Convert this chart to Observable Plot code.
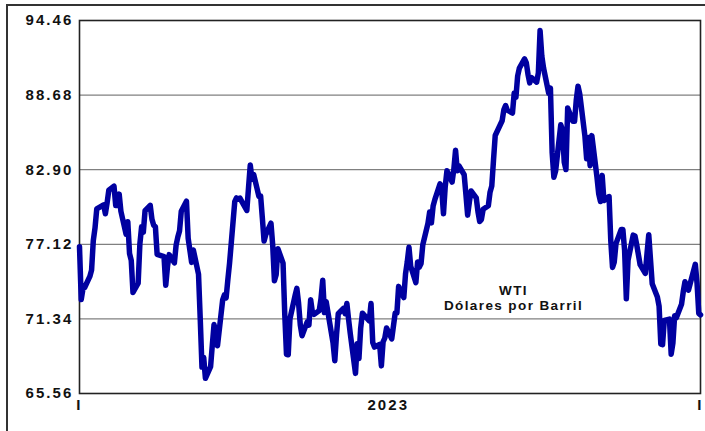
<!DOCTYPE html>
<html>
<head>
<meta charset="utf-8">
<script src="https://cdn.jsdelivr.net/npm/d3@7"></script>
<script src="https://cdn.jsdelivr.net/npm/@observablehq/plot@0.6"></script>
<style>
  html, body { margin: 0; padding: 0; background: #fff; }
  #wrap { position: relative; width: 705px; height: 431px; overflow: hidden; }
  #border { position: absolute; left: 6px; top: 4px; width: 900px; height: 600px;
            border-top: 2px solid #333; border-left: 2px solid #333; }
  #chart { position: absolute; left: 0; top: 0; }
  g[aria-label$="tick label"] { letter-spacing: 2.1px; }
  g[aria-label="text"] { letter-spacing: 1.4px; }
</style>
</head>
<body>
<div id="wrap"><div id="border"></div><div id="chart"></div></div>
<script>
const dates = [
"2023-01-03","2023-01-04","2023-01-05","2023-01-06","2023-01-09","2023-01-10","2023-01-11","2023-01-12","2023-01-13","2023-01-17",
"2023-01-18","2023-01-19","2023-01-20","2023-01-23","2023-01-24","2023-01-25","2023-01-26","2023-01-27","2023-01-30","2023-01-31",
"2023-02-01","2023-02-02","2023-02-03","2023-02-06","2023-02-07","2023-02-08","2023-02-09","2023-02-10","2023-02-13","2023-02-14",
"2023-02-15","2023-02-16","2023-02-17","2023-02-21","2023-02-22","2023-02-23","2023-02-24","2023-02-27","2023-02-28","2023-03-01",
"2023-03-02","2023-03-03","2023-03-06","2023-03-07","2023-03-08","2023-03-09","2023-03-10","2023-03-13","2023-03-14","2023-03-15",
"2023-03-16","2023-03-17","2023-03-20","2023-03-21","2023-03-22","2023-03-23","2023-03-24","2023-03-27","2023-03-28","2023-03-29",
"2023-03-30","2023-03-31","2023-04-03","2023-04-04","2023-04-05","2023-04-06","2023-04-10","2023-04-11","2023-04-12","2023-04-13",
"2023-04-14","2023-04-17","2023-04-18","2023-04-19","2023-04-20","2023-04-21","2023-04-24","2023-04-25","2023-04-26","2023-04-27",
"2023-04-28","2023-05-01","2023-05-02","2023-05-03","2023-05-04","2023-05-05","2023-05-08","2023-05-09","2023-05-10","2023-05-11",
"2023-05-12","2023-05-15","2023-05-16","2023-05-17","2023-05-18","2023-05-19","2023-05-22","2023-05-23","2023-05-24","2023-05-25",
"2023-05-26","2023-05-30","2023-05-31","2023-06-01","2023-06-02","2023-06-05","2023-06-06","2023-06-07","2023-06-08","2023-06-09",
"2023-06-12","2023-06-13","2023-06-14","2023-06-15","2023-06-16","2023-06-20","2023-06-21","2023-06-22","2023-06-23","2023-06-26",
"2023-06-27","2023-06-28","2023-06-29","2023-06-30","2023-07-03","2023-07-05","2023-07-06","2023-07-07","2023-07-10","2023-07-11",
"2023-07-12","2023-07-13","2023-07-14","2023-07-17","2023-07-18","2023-07-19","2023-07-20","2023-07-21","2023-07-24","2023-07-25",
"2023-07-26","2023-07-27","2023-07-28","2023-07-31","2023-08-01","2023-08-02","2023-08-03","2023-08-04","2023-08-07","2023-08-08",
"2023-08-09","2023-08-10","2023-08-11","2023-08-14","2023-08-15","2023-08-16","2023-08-17","2023-08-18","2023-08-21","2023-08-22",
"2023-08-23","2023-08-24","2023-08-25","2023-08-28","2023-08-29","2023-08-30","2023-08-31","2023-09-01","2023-09-05","2023-09-06",
"2023-09-07","2023-09-08","2023-09-11","2023-09-12","2023-09-13","2023-09-14","2023-09-15","2023-09-18","2023-09-19","2023-09-20",
"2023-09-21","2023-09-22","2023-09-25","2023-09-26","2023-09-27","2023-09-28","2023-09-29","2023-10-02","2023-10-03","2023-10-04",
"2023-10-05","2023-10-06","2023-10-09","2023-10-10","2023-10-11","2023-10-12","2023-10-13","2023-10-16","2023-10-17","2023-10-18",
"2023-10-19","2023-10-20","2023-10-23","2023-10-24","2023-10-25","2023-10-26","2023-10-27","2023-10-30","2023-10-31","2023-11-01",
"2023-11-02","2023-11-03","2023-11-06","2023-11-07","2023-11-08","2023-11-09","2023-11-10","2023-11-13","2023-11-14","2023-11-15",
"2023-11-16","2023-11-17","2023-11-20","2023-11-21","2023-11-22","2023-11-24","2023-11-27","2023-11-28","2023-11-29","2023-11-30",
"2023-12-01","2023-12-04","2023-12-05","2023-12-06","2023-12-07","2023-12-08","2023-12-11","2023-12-12","2023-12-13","2023-12-14",
"2023-12-15","2023-12-18","2023-12-19","2023-12-20","2023-12-21","2023-12-22","2023-12-26","2023-12-27","2023-12-28","2023-12-29"
];
const wti = [
76.93,72.84,73.67,73.77,74.63,75.12,77.41,78.39,79.86,80.18,
79.48,80.33,81.31,81.62,80.13,80.15,81.01,79.68,77.90,78.87,
76.41,75.88,73.39,74.11,77.14,78.47,78.06,79.72,80.14,79.06,
78.59,78.49,76.34,76.16,73.95,75.39,76.32,75.68,77.05,77.69,
78.16,79.68,80.46,77.58,76.66,75.72,76.68,74.80,71.33,67.61,
68.35,66.74,67.64,69.33,70.90,69.96,69.26,72.81,73.20,72.97,
74.37,75.67,80.42,80.71,80.61,80.70,79.74,81.53,83.26,82.16,
82.52,80.83,80.86,79.16,77.37,77.87,78.76,77.07,74.30,74.76,
76.78,75.66,71.66,68.60,68.56,71.34,73.16,73.71,72.56,70.87,
70.04,71.11,70.86,72.83,71.86,71.69,71.99,72.91,74.34,71.83,
72.67,69.46,68.09,70.10,71.74,72.15,71.74,72.53,71.29,70.17,
67.12,69.42,68.27,70.62,71.78,71.19,72.53,69.51,69.16,69.37,
67.70,69.56,69.86,70.64,69.79,71.79,71.80,73.86,72.99,74.83,
75.75,76.89,75.42,74.15,75.75,75.35,75.63,77.07,78.74,79.63,
78.78,80.09,80.58,81.80,81.37,79.49,81.55,82.82,81.94,82.92,
84.40,82.82,83.19,82.51,80.99,79.38,80.39,81.25,80.72,79.64,
78.89,79.05,79.83,80.10,81.16,81.63,83.63,85.55,86.69,87.54,
87.87,87.51,87.29,88.84,88.52,90.16,90.77,91.48,91.20,90.28,
89.63,90.03,89.68,90.39,93.68,91.71,90.79,88.82,89.23,84.22,
82.31,82.79,86.38,85.97,83.49,82.91,87.69,86.66,86.66,88.32,
89.37,88.75,85.49,83.74,85.39,83.21,85.54,82.31,81.02,80.44,
82.46,80.51,80.82,77.37,75.33,75.74,77.17,78.26,78.26,76.66,
72.90,75.89,77.83,77.77,77.10,75.54,74.86,76.41,77.86,75.96,
74.07,73.04,72.32,69.38,69.34,71.23,71.32,68.61,69.47,71.58,
71.43,72.47,73.44,74.22,73.89,73.56,75.57,74.11,71.77,71.65
];
const yTicks = [65.56, 71.34, 77.12, 82.90, 88.68, 94.46];
const gridValues = [71.34, 77.12, 82.90, 88.68];
const xTickDates = ["2023-01-03", "2023-07-01", "2023-12-29"];
const xTickLabels = ["I", "2023", "I"];
const labelLines = ["WTI", "Dólares por Barril"];

const data = dates.map((d, i) => ({date: new Date(d + "T00:00:00Z"), value: wti[i]}));
const xTicks = xTickDates.map(d => new Date(d + "T00:00:00Z"));
const xLabelMap = new Map(xTicks.map((d, i) => [+d, xTickLabels[i]]));

const chart = Plot.plot({
  width: 705,
  height: 431,
  marginLeft: 79,
  marginRight: 5,
  marginTop: 20,
  marginBottom: 38,
  style: {fontFamily: "'Liberation Sans', Arial, sans-serif", fontSize: "15px", fontWeight: "bold", color: "#111", background: "transparent"},
  x: {type: "utc", domain: [data[0].date, data[data.length - 1].date]},
  y: {domain: [65.56, 94.46]},
  marks: [
    Plot.ruleY(gridValues, {stroke: "#808080", strokeWidth: 1.2}),
    Plot.frame({stroke: "#222", strokeWidth: 1.6}),
    Plot.axisY({ticks: yTicks, tickSize: 0, tickPadding: 6, tickFormat: d => d.toFixed(2), label: null, fontSize: 15, fontWeight: "bold"}),
    Plot.axisX({ticks: xTicks, tickSize: 0, tickPadding: 6, tickFormat: d => xLabelMap.get(+d), label: null, fontSize: 15, fontWeight: "bold"}),
    Plot.line(data, {x: "date", y: "value", stroke: "#0000a0", strokeWidth: 5.5, strokeLinejoin: "round", strokeLinecap: "round"}),
    Plot.text([labelLines.join("\n")], {frameAnchor: "bottom-right", dx: -187, dy: -109, textAnchor: "middle", lineAnchor: "top", lineHeight: 1.12, fontSize: 13.5, fontWeight: "bold", fill: "#111"})
  ]
});
document.getElementById("chart").appendChild(chart);
</script>
</body>
</html>
